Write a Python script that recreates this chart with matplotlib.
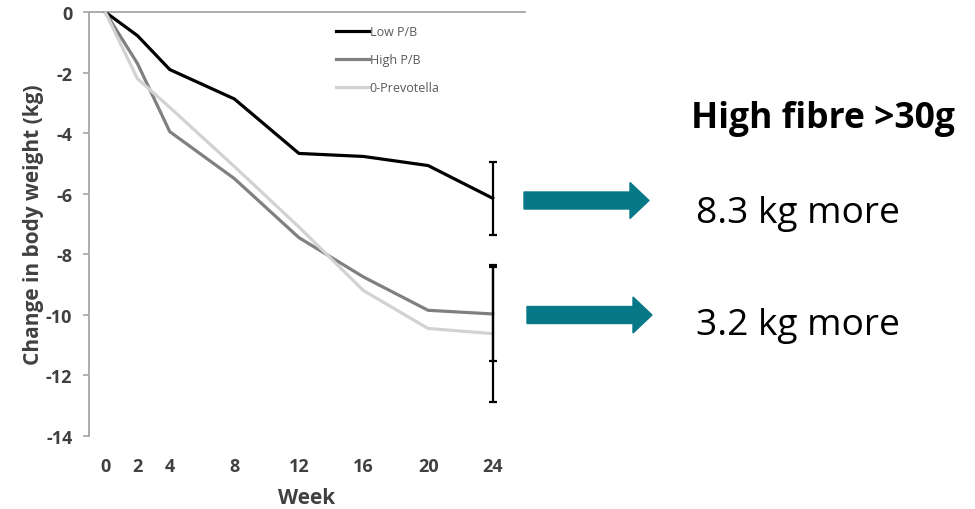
import matplotlib
matplotlib.use("Agg")
import matplotlib.pyplot as plt
from matplotlib.patches import FancyArrow

weeks = [0, 2, 4, 8, 12, 16, 20, 24]
low_pb = [0, -0.78, -1.9, -2.87, -4.67, -4.77, -5.07, -6.15]
high_pb = [0, -1.7, -3.95, -5.5, -7.45, -8.75, -9.85, -9.97]
zero_prev = [0, -2.2, -3.15, -5.1, -7.1, -9.2, -10.45, -10.62]
series_names = ["Low P/B", "High P/B", "0-Prevotella"]
err_low = 1.2
err_high = 1.55
err_zero = 2.25
xticks = [0, 2, 4, 8, 12, 16, 20, 24]
yticks = [0, -2, -4, -6, -8, -10, -12, -14]

W, H = 975, 510
fig = plt.figure(figsize=(W / 100, H / 100), dpi=100)
ax = fig.add_axes([89 / W, 1 - 437 / H, (525 - 89) / W, (437 - 13) / H])

colors = ["#000000", "#808080", "#d2d2d2"]
lw = 2.3
for ys, c, name in zip([low_pb, high_pb, zero_prev], colors, series_names):
    ax.plot(weeks, ys, color=c, lw=lw, label=name, solid_joinstyle="round", zorder=3)

# error bars at final week
for val, err in [(zero_prev[-1], err_zero), (high_pb[-1], err_high), (low_pb[-1], err_low)]:
    ax.errorbar([weeks[-1]], [val], yerr=err, fmt="none", ecolor="black",
                elinewidth=1.6, capsize=3, capthick=1.6, zorder=4)

ax.set_xlim(-1, 26)
ax.set_ylim(-14, 0)
ax.set_xticks(xticks)
ax.set_yticks(yticks)
ax.set_yticklabels([str(v) for v in yticks])

for s in ["right", "bottom"]:
    ax.spines[s].set_visible(False)
ax.spines["left"].set_color("#a6a6a6")
ax.spines["left"].set_linewidth(1.3)
ax.spines["top"].set_color("#a6a6a6")
ax.spines["top"].set_linewidth(1.3)

ax.tick_params(axis="x", length=0, pad=15, labelcolor="#404040")
ax.tick_params(axis="y", length=4, width=1.2, color="#a6a6a6", pad=8, labelcolor="#404040")
for lab in ax.get_xticklabels() + ax.get_yticklabels():
    lab.set_fontfamily("Open Sans")
    lab.set_fontweight("bold")
    lab.set_fontsize(13)

ax.set_xlabel("Week", fontfamily="Open Sans", fontweight="bold", fontsize=15,
              color="#404040", labelpad=9)
ax.set_ylabel("Change in body weight (kg)", fontfamily="Open Sans", fontweight="bold",
              fontsize=15, color="#404040", labelpad=1)

leg = ax.legend(loc="upper left", bbox_to_anchor=(336 / W, 1 - 26 / H),
                bbox_transform=fig.transFigure, frameon=False,
                prop=dict(family="Open Sans", size=9), handlelength=2.6,
                handletextpad=0.1, labelspacing=1.2, borderaxespad=0, borderpad=0)
for t in leg.get_texts():
    t.set_color("#595959")

# Right-hand annotations
teal = "#077888"
def arrow(x0, x1, yc):
    fig.patches.append(FancyArrow(x0 / W, 1 - yc / H, (x1 - x0) / W, 0,
                                  width=17 / H, head_width=36 / H, head_length=19 / W,
                                  length_includes_head=True, color=teal,
                                  transform=fig.transFigure, figure=fig))

arrow(524, 649, 201.5)
arrow(527, 652, 316)

fig.text(691 / W, 1 - 128 / H, "High fibre >30g", fontfamily="Open Sans", fontweight="bold",
         fontsize=25.6, color="black", va="baseline", ha="left")
fig.text(696 / W, 1 - 223 / H, "8.3 kg more", fontfamily="Open Sans", fontsize=26.7,
         color="black", va="baseline", ha="left")
fig.text(696 / W, 1 - 335 / H, "3.2 kg more", fontfamily="Open Sans", fontsize=26.7,
         color="black", va="baseline", ha="left")

fig.savefig("out.png", dpi=100)
